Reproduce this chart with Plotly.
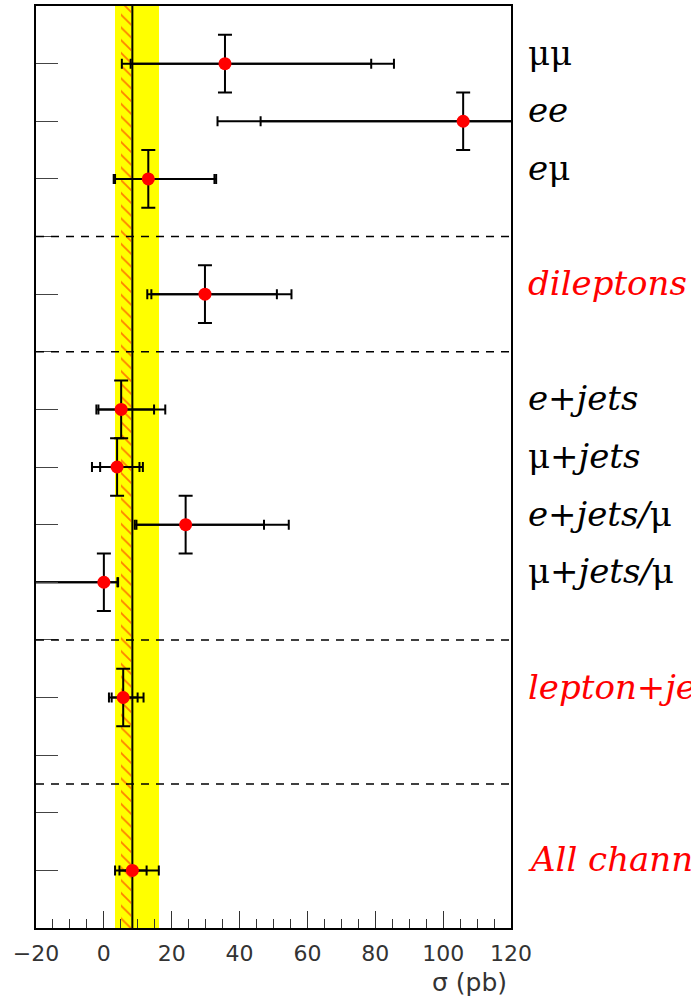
import plotly.graph_objects as go

# ---- data -------------------------------------------------------------
channel_labels = [
    "μμ", "<i>ee</i>", "<i>e</i>μ", "<i>dileptons</i>",
    "<i>e+jets</i>", "μ<i>+jets</i>", "<i>e+jets/</i>μ", "μ<i>+jets/</i>μ",
    "<i>lepton+jets</i>", "<i>All channels</i>",
]
label_colors = ["black", "black", "black", "red",
                "black", "black", "black", "black",
                "red", "red"]
rows = [1, 2, 3, 5, 7, 8, 9, 10, 12, 15]

sigma = [35.7, 105.9, 13.1, 29.8, 5.1, 3.9, 24.1, 0.0, 5.7, 8.4]
stat_minus = [27.8, 59.7, 9.8, 15.8, 6.7, 5.0, 14.5, 26.0, 3.4, 3.8]
stat_plus = [43.1, 45.0, 19.5, 21.2, 9.7, 6.6, 23.1, 4.0, 4.25, 4.2]
tot_minus = [30.4, 72.4, 10.2, 17.0, 7.3, 7.4, 15.0, 32.0, 4.2, 5.1]
tot_plus = [49.8, 60.0, 20.0, 25.5, 13.0, 7.6, 30.4, 4.2, 6.0, 7.8]
row_halfwidth = [0.5, 0.5, 0.5, 0.5, 0.5, 0.5, 0.5, 0.5, 0.5, 0.0]

# combined result (vertical line + yellow band) and theory band (hatched)
combined = 8.4
combined_minus = 5.1
combined_plus = 7.8
theory_lo = 5.0
theory_hi = 7.9

separators = [4, 6, 11, 13.5]
row_ticks = list(range(1, 16))
x_range = [-20, 120]
y_range = [16, 0]

SERIF = "DejaVu Serif"

# ---- figure -----------------------------------------------------------
fig = go.Figure()

band_center = (y_range[0] + y_range[1]) / 2
band_height = abs(y_range[0] - y_range[1])

# yellow band: total uncertainty of the combination
fig.add_trace(go.Bar(
    orientation="h", y=[band_center], x=[combined_minus + combined_plus],
    base=[combined - combined_minus], width=[band_height],
    marker=dict(color="#ffff00", line=dict(width=0)),
    showlegend=False, hoverinfo="skip",
))
# hatched theory band
fig.add_trace(go.Bar(
    orientation="h", y=[band_center], x=[theory_hi - theory_lo],
    base=[theory_lo], width=[band_height],
    marker=dict(color="#ffff00", line=dict(width=0),
                pattern=dict(shape="\\", fgcolor="#ff0000", bgcolor="#ffff00",
                             fillmode="overlay", size=9, solidity=0.2)),
    showlegend=False, hoverinfo="skip",
))
# central value of the combination
fig.add_trace(go.Scatter(
    x=[combined, combined], y=y_range, mode="lines",
    line=dict(color="black", width=2), showlegend=False, hoverinfo="skip",
))

# total uncertainty (outer ticks)
fig.add_trace(go.Scatter(
    x=sigma, y=rows, mode="markers", marker=dict(size=1, color="rgba(0,0,0,0)"),
    error_x=dict(type="data", symmetric=False, array=tot_plus, arrayminus=tot_minus,
                 color="black", thickness=2, width=5),
    showlegend=False, hoverinfo="skip",
))
# statistical uncertainty (inner ticks), vertical bars and points
fig.add_trace(go.Scatter(
    x=sigma, y=rows, mode="markers",
    marker=dict(size=13, color="#ff0000", line=dict(width=0)),
    error_x=dict(type="data", symmetric=False, array=stat_plus, arrayminus=stat_minus,
                 color="black", thickness=2, width=5),
    error_y=dict(type="data", array=row_halfwidth, color="black", thickness=2, width=7),
    showlegend=False,
))

for y in separators:
    fig.add_shape(type="line", xref="paper", x0=0, x1=1, yref="y", y0=y, y1=y,
                  line=dict(color="black", width=1.5, dash="8px,7px"), layer="above")

for text, color, y in zip(channel_labels, label_colors, rows):
    fig.add_annotation(
        x=1, xref="paper", xshift=15, xanchor="left",
        y=y, yref="y", yanchor="middle", yshift=11,
        text=text, showarrow=False,
        font=dict(family=SERIF, size=34, color=color),
    )

fig.add_annotation(
    x=1, xref="paper", xanchor="right", xshift=-2,
    y=0, yref="paper", yanchor="middle", yshift=-54,
    text="σ (pb)", showarrow=False,
    font=dict(family="DejaVu Sans", size=25, color="#333333"),
)

fig.update_layout(
    width=691, height=999,
    margin=dict(l=36, r=180, t=4, b=71),
    paper_bgcolor="white", plot_bgcolor="white",
    barmode="overlay", bargap=0,
    showlegend=False,
    xaxis=dict(
        range=x_range, tick0=0, dtick=20, ticks="inside", ticklen=17,
        tickwidth=1, tickcolor="#333333",
        minor=dict(dtick=5, ticks="inside", ticklen=9, tickwidth=1, tickcolor="#333333"),
        showgrid=False, zeroline=False,
        showline=True, linecolor="black", linewidth=2, mirror=True,
        tickfont=dict(family="DejaVu Sans", size=22, color="#333333"),
        ticklabelstandoff=5,
    ),
    yaxis=dict(
        range=y_range, tickvals=row_ticks, showticklabels=False,
        ticks="inside", ticklen=22, tickwidth=1, tickcolor="#444444",
        showgrid=False, zeroline=False,
        showline=True, linecolor="black", linewidth=2, mirror=True,
    ),
)

fig.write_html("out.html")
